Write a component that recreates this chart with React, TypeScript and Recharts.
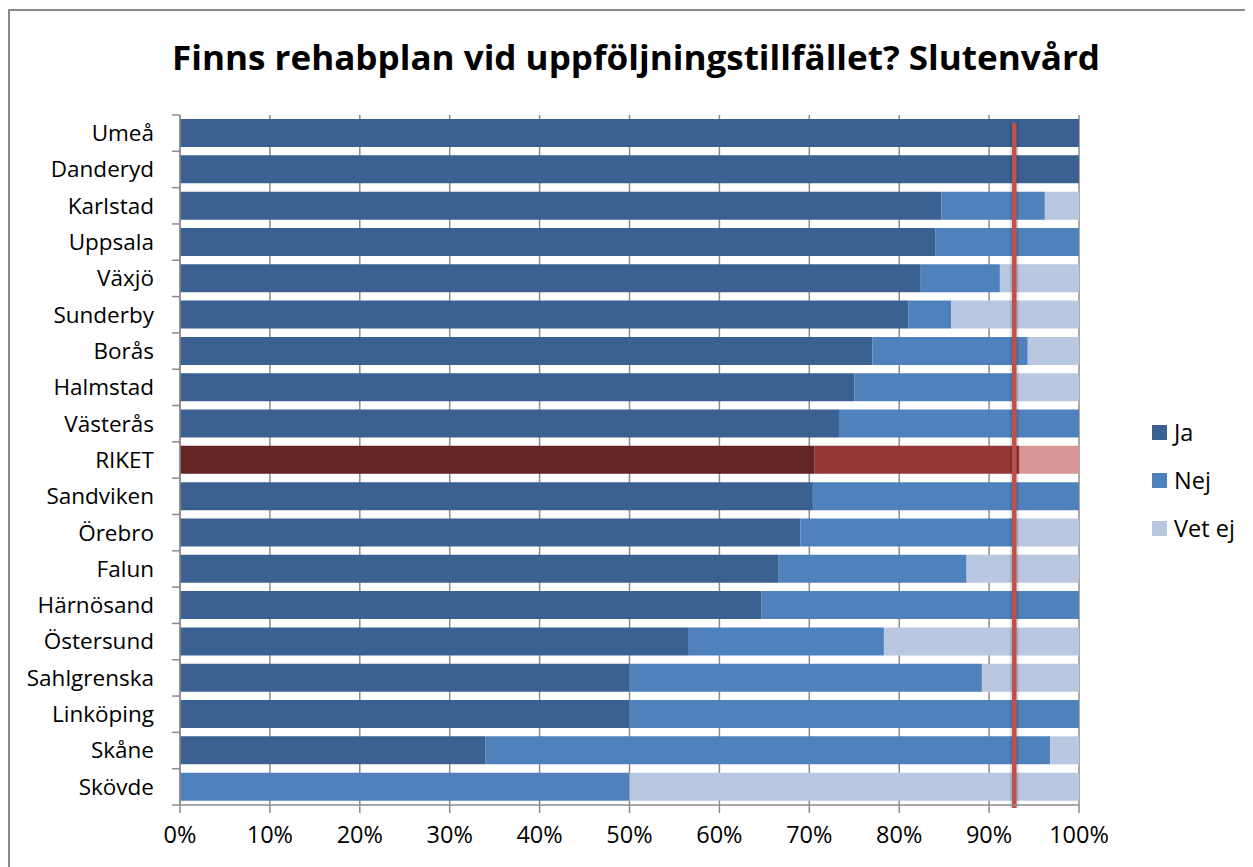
import React from 'react';
import { BarChart, Bar, XAxis, YAxis, CartesianGrid, ReferenceLine, Cell } from 'recharts';

const categories = ['Umeå', 'Danderyd', 'Karlstad', 'Uppsala', 'Växjö', 'Sunderby', 'Borås', 'Halmstad', 'Västerås', 'RIKET', 'Sandviken', 'Örebro', 'Falun', 'Härnösand', 'Östersund', 'Sahlgrenska', 'Linköping', 'Skåne', 'Skövde'];
const jaValues = [100, 100, 84.7, 84.0, 82.4, 81.0, 77.0, 75.0, 73.3, 70.6, 70.4, 69.0, 66.6, 64.7, 56.6, 50, 50, 34.0, 0];
const nejValues = [0, 0, 11.5, 16.0, 8.8, 4.8, 17.3, 18.0, 26.7, 22.8, 29.6, 24.0, 20.9, 35.3, 21.7, 39.2, 50, 62.8, 50];
const vetEjValues = [0, 0, 3.8, 0, 8.8, 14.2, 5.7, 7.0, 0, 6.6, 0, 7.0, 12.5, 0, 21.7, 10.8, 0, 3.2, 50];
const seriesNames = ['Ja', 'Nej', 'Vet ej'];
const seriesKeys = ['ja', 'nej', 'vetEj'];
const seriesColors = ['#3B6191', '#4F81BD', '#B9C7E0'];
const riketColors = ['#632523', '#953735', '#D99694'];
const highlightCategory = 'RIKET';
const xTicks = [0, 10, 20, 30, 40, 50, 60, 70, 80, 90, 100];
const riketLine = 92.8;
const title = 'Finns rehabplan vid uppföljningstillfället? Slutenvård';

const data = categories.map((name, i) => ({ name, ja: jaValues[i], nej: nejValues[i], vetEj: vetEjValues[i] }));

const FONT = '"Open Sans", sans-serif';
const AXIS = '#8C8C8C';

const YTick = (props: any) => {
  const { x, y, payload, index } = props;
  const half = payload && payload.offset ? payload.offset : 18;
  const ax = x + 26;
  return (
    <g>
      <line x1={ax - 8} x2={ax} y1={y - half} y2={y - half} stroke={AXIS} strokeWidth={1.5} />
      {index === categories.length - 1 && (
        <line x1={ax - 8} x2={ax} y1={y + half} y2={y + half} stroke={AXIS} strokeWidth={1.5} />
      )}
      <text x={x} y={y} dy="0.35em" textAnchor="end" fill="#000" fontSize={22.5} fontFamily={FONT}>
        {payload.value}
      </text>
    </g>
  );
};

const RedLine = (p: any) => {
  const x1 = p.x1, x2 = p.x2, y1 = p.y1, y2 = p.y2;
  if (x1 == null) return null;
  return (
    <g>
      <line x1={x1} x2={x2} y1={y1 + 3} y2={y2 + 8} stroke="rgba(0,0,0,0.12)" strokeWidth={9} />
      <line x1={x1} x2={x2} y1={y1 + 3} y2={y2 + 8} stroke="#C0504D" strokeWidth={4.5} />
    </g>
  );
};

export default function App() {
  return (
    <div style={{ position: 'relative', width: 1245, height: 859 }}>
      <div style={{ position: 'absolute', left: 0, top: 1, width: 1243, height: 856, borderLeft: '2px solid #8A8A8A', borderTop: '2px solid #8A8A8A' }} />
      <svg style={{ position: 'absolute', left: 0, top: 0 }} width={1245} height={100}>
        <text x={628} y={62} textAnchor="middle" fontSize={34} fontWeight="bold" fontFamily={FONT} fill="#000" textLength={928} lengthAdjust="spacingAndGlyphs">
          {title}
        </text>
      </svg>
      <div style={{ position: 'absolute', left: 0, top: 0 }}>
        <BarChart layout="vertical" width={1245} height={859} data={data} margin={{ top: 107, right: 174, bottom: 22, left: 0 }} barCategoryGap="11%">
          <CartesianGrid horizontal={false} vertical={true} stroke={AXIS} strokeWidth={1.5} />
          <XAxis type="number" domain={[0, 100]} ticks={xTicks} tickFormatter={(v: number) => `${v}%`} stroke={AXIS} strokeWidth={1.5} tickSize={8} tickMargin={13} height={40} tick={{ fill: '#000', fontSize: 23.5, fontFamily: FONT }} interval={0} />
          <YAxis type="category" dataKey="name" width={172} stroke={AXIS} strokeWidth={1.5} tickLine={false} tickSize={8} tickMargin={18} interval={0} tick={<YTick />} />
          {seriesKeys.map((k, si) => (
            <Bar key={k} dataKey={k} name={seriesNames[si]} stackId="a" fill={seriesColors[si]} isAnimationActive={false}>
              {data.map((d) => (
                <Cell key={d.name} fill={d.name === highlightCategory ? riketColors[si] : seriesColors[si]} />
              ))}
            </Bar>
          ))}
          <ReferenceLine x={riketLine} shape={<RedLine />} ifOverflow="visible" />
        </BarChart>
      </div>
      <div style={{ position: 'absolute', left: 1144, top: 400, fontFamily: FONT, fontSize: 23.5, color: '#000' }}>
        {seriesNames.map((n, i) => (
          <div key={n} style={{ display: 'flex', alignItems: 'center', height: 48 }}>
            <div style={{ width: 15, height: 15, background: seriesColors[i], marginRight: 7 }} />
            <span>{n}</span>
          </div>
        ))}
      </div>
    </div>
  );
}
